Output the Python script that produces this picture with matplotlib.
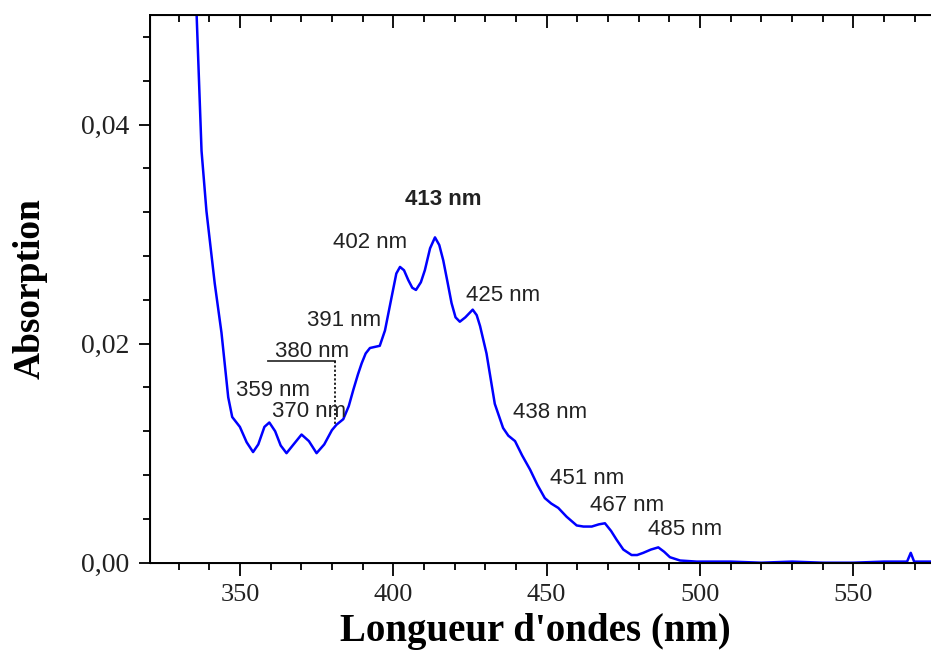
import matplotlib
matplotlib.use("Agg")
import matplotlib.pyplot as plt
from matplotlib.ticker import MultipleLocator, FuncFormatter

# spectre d'absorption
longueur = [335.0, 335.9, 337.5, 339.1, 341.8, 344.0, 346.2, 347.5, 350.0, 352.2,
            354.3, 356.0, 358.0, 359.6, 361.5, 363.3, 365.2, 367.5, 370.1, 372.5,
            375.0, 377.5, 380.0, 381.5, 383.7, 385.5, 387.0, 388.5, 389.7, 391.0,
            392.4, 394.0, 395.6, 397.3, 399.5, 401.0, 402.2, 403.5, 404.9, 406.2,
            407.4, 409.0, 410.3, 412.0, 413.6, 415.0, 416.3, 417.7, 419.0, 420.3,
            421.7, 423.5, 425.9, 427.2, 428.3, 430.4, 433.1, 435.8, 437.5, 439.7,
            442.0, 444.6, 447.0, 449.4, 451.5, 453.8, 456.5, 459.8, 462.0, 464.7,
            467.0, 469.0, 471.0, 472.8, 475.0, 477.7, 479.5, 481.5, 484.0, 486.4,
            488.3, 490.2, 493.5, 498.9, 510.0, 520.0, 530.0, 540.0, 550.0, 560.0,
            567.5, 568.7, 569.8, 576.0]
absorption = [0.0570, 0.0500, 0.0376, 0.0321, 0.0255, 0.0210, 0.0151, 0.0133, 0.0124, 0.0110,
              0.0101, 0.0108, 0.0124, 0.0128, 0.0120, 0.0107, 0.0100, 0.0108, 0.0117, 0.0111,
              0.0100, 0.0108, 0.0121, 0.0126, 0.0131, 0.0143, 0.0158, 0.0172, 0.0182, 0.0191,
              0.0196, 0.0197, 0.0198, 0.0212, 0.0243, 0.0264, 0.0270, 0.0267, 0.0258, 0.0251,
              0.0249, 0.0256, 0.0267, 0.0287, 0.0297, 0.0290, 0.0276, 0.0256, 0.0237, 0.0224,
              0.0220, 0.0224, 0.0231, 0.0226, 0.0216, 0.0191, 0.0145, 0.0123, 0.0116, 0.0111,
              0.0098, 0.0085, 0.0071, 0.0059, 0.0054, 0.0050, 0.0042, 0.0034, 0.0033, 0.0033,
              0.0035, 0.0036, 0.0029, 0.0021, 0.0012, 0.0007, 0.0007, 0.0009, 0.0012, 0.0014,
              0.0010, 0.0005, 0.0002, 0.0001, 0.0001, 0.0000, 0.0001, 0.0000, 0.0000, 0.0001,
              0.0001, 0.0009, 0.0001, 0.0001]

# étiquettes des bandes : texte, x, y
etiquettes = ["413 nm", "402 nm", "425 nm", "391 nm", "380 nm", "359 nm",
              "370 nm", "438 nm", "451 nm", "467 nm", "485 nm"]
etiq_x = [403.8, 380.3, 423.7, 371.8, 361.4, 348.7, 360.4, 439.0, 451.1, 464.1, 483.0]
etiq_y = [0.0332, 0.0292, 0.0244, 0.0221, 0.0193, 0.0157, 0.0138, 0.0137, 0.0077, 0.0052, 0.0030]

fig = plt.figure(figsize=(9.31, 6.64), dpi=100)
ax = fig.add_axes([150 / 931, 1 - 562.7 / 664, 1 - 150 / 931, (562.7 - 15) / 664])

ax.plot(longueur, absorption, color="#0000ff", lw=1.8)

for txt, x, y in zip(etiquettes, etiq_x, etiq_y):
    ax.text(x, y, txt, ha="left", va="center", fontsize=16,
            family="Liberation Sans", color="#222222",
            fontweight="bold" if txt == "413 nm" else "normal")

# trait sous 380 nm et pointillé vers la courbe
ax.plot([359.2, 381.0], [0.0184, 0.0184], color="#333333", lw=1.3)
ax.plot([381.0, 381.0], [0.0184, 0.0125], color="#111111", lw=1.3, ls=(0, (1.2, 1.2)))

ax.set_xlim(320.7, 575.3)
ax.set_ylim(0, 0.05)

ax.spines["right"].set_visible(False)
for s in ["left", "bottom", "top"]:
    ax.spines[s].set_linewidth(1.4)

ax.xaxis.set_major_locator(MultipleLocator(50))
ax.xaxis.set_minor_locator(MultipleLocator(10))
ax.yaxis.set_major_locator(MultipleLocator(0.02))
ax.yaxis.set_minor_locator(MultipleLocator(0.004))
ax.yaxis.set_major_formatter(FuncFormatter(lambda v, p: f"{v:.2f}".replace(".", ",")))

ax.tick_params(axis="x", which="both", bottom=True, top=False, direction="out", width=1.3)
ax.tick_params(axis="x", which="major", length=9, pad=6, labelsize=19)
ax.tick_params(axis="x", which="minor", length=5)
ax.tick_params(axis="y", which="both", left=True, right=False, direction="out", width=1.3)
ax.tick_params(axis="y", which="major", length=8, pad=7, labelsize=20)
ax.tick_params(axis="y", which="minor", length=5)

# graduations du haut tournées vers l'intérieur
top = ax.twiny()
top.set_xlim(ax.get_xlim())
top.spines["right"].set_visible(False)
top.xaxis.set_major_locator(MultipleLocator(50))
top.xaxis.set_minor_locator(MultipleLocator(10))
top.tick_params(axis="x", which="both", direction="in", labeltop=False, width=1.3)
top.tick_params(axis="x", which="major", length=9)
top.tick_params(axis="x", which="minor", length=5)

for lab in ax.get_xticklabels() + ax.get_yticklabels():
    lab.set_family("Liberation Serif")
    lab.set_color("#222222")

ax.set_xlabel("Longueur d'ondes (nm)", family="Liberation Serif", fontweight="bold",
              fontsize=28)
ax.set_ylabel("Absorption", family="Liberation Serif", fontweight="bold",
              fontsize=27)
ax.xaxis.set_label_coords((535 - 150) / 781, (562.7 - 632) / 547.7)
ax.xaxis.label.set_va("center")
ax.yaxis.set_label_coords((30 - 150) / 781, 0.5)
ax.yaxis.label.set_va("center")

fig.savefig("out.png", dpi=100)
